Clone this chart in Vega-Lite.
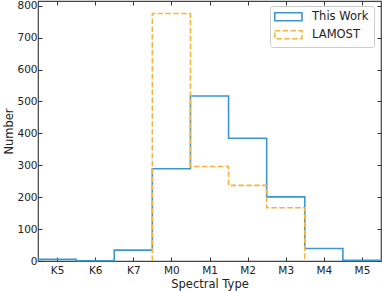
{
  "$schema": "https://vega.github.io/schema/vega-lite/v6.json",
  "width": 343,
  "height": 260,
  "autosize": {"type": "none"},
  "padding": {"left": 38, "top": 1, "right": 1, "bottom": 30},
  "config": {
    "font": "DejaVu Sans",
    "view": {"stroke": "#444444", "strokeWidth": 1.2},
    "axis": {
      "domain": false,
      "grid": false,
      "tickColor": "#333333",
      "tickSize": -4,
      "tickWidth": 1,
      "labelFontSize": 10.5,
      "labelColor": "#222222",
      "titleFontSize": 11.5,
      "titleFontWeight": "normal",
      "titleColor": "#222222"
    }
  },
  "data": {
    "values": [
      {"series": "This Work", "type": "K5", "edge": -0.5, "count": 5, "ord": 1},
      {"series": "This Work", "type": "K6", "edge": 0.5, "count": 1, "ord": 2},
      {"series": "This Work", "type": "K7", "edge": 1.5, "count": 34, "ord": 3},
      {"series": "This Work", "type": "M0", "edge": 2.5, "count": 289, "ord": 4},
      {"series": "This Work", "type": "M1", "edge": 3.5, "count": 517, "ord": 5},
      {"series": "This Work", "type": "M2", "edge": 4.5, "count": 385, "ord": 6},
      {"series": "This Work", "type": "M3", "edge": 5.5, "count": 201, "ord": 7},
      {"series": "This Work", "type": "M4", "edge": 6.5, "count": 39, "ord": 8},
      {"series": "This Work", "type": "M5", "edge": 7.5, "count": 2, "ord": 9},
      {"series": "This Work", "type": "end", "edge": 8.5, "count": 0, "ord": 10},
      {"series": "LAMOST", "type": "start", "edge": 2.5, "count": 0, "ord": 0},
      {"series": "LAMOST", "type": "M0", "edge": 2.5, "count": 776, "ord": 1},
      {"series": "LAMOST", "type": "M1", "edge": 3.5, "count": 296, "ord": 2},
      {"series": "LAMOST", "type": "M2", "edge": 4.5, "count": 237, "ord": 3},
      {"series": "LAMOST", "type": "M3", "edge": 5.5, "count": 167, "ord": 4},
      {"series": "LAMOST", "type": "end", "edge": 6.5, "count": 0, "ord": 5}
    ]
  },
  "layer": [
    {
      "mark": {"type": "line", "interpolate": "step-after", "strokeWidth": 1.6},
      "encoding": {
        "x": {
          "field": "edge", "type": "quantitative",
          "scale": {"domain": [-0.5, 8.5], "nice": false, "zero": false},
          "axis": {
            "orient": "bottom", "title": "Spectral Type",
            "values": [0, 1, 2, 3, 4, 5, 6, 7, 8],
            "labelExpr": "['K5','K6','K7','M0','M1','M2','M3','M4','M5'][datum.value]",
            "labelPadding": 8, "titlePadding": 3
          }
        },
        "y": {
          "field": "count", "type": "quantitative",
          "scale": {"domain": [0, 815], "nice": false},
          "axis": {
            "orient": "left", "title": "Number",
            "values": [0, 100, 200, 300, 400, 500, 600, 700, 800],
            "labelPadding": 5, "titlePadding": 2
          }
        },
        "color": {
          "field": "series", "type": "nominal",
          "scale": {"domain": ["This Work", "LAMOST"], "range": ["#3a97cf", "#f2b53f"]},
          "legend": {
            "title": null, "orient": "none", "legendX": 232, "legendY": 5,
            "symbolType": "M-3.4,-1H3.4V1H-3.4Z", "symbolSize": 64,
            "symbolStrokeWidth": 1.6, "symbolFillColor": "transparent",
            "labelFontSize": 11.5, "labelColor": "#222222",
            "fillColor": "rgba(255,255,255,0.8)", "strokeColor": "#cccccc",
            "cornerRadius": 2, "padding": 5, "rowPadding": 3,
            "symbolOffset": 7.6, "labelOffset": 18
          }
        },
        "strokeDash": {
          "field": "series", "type": "nominal",
          "scale": {"domain": ["This Work", "LAMOST"], "range": [[1, 0], [5.5, 2.4]]},
          "legend": {
            "title": null, "orient": "none", "legendX": 232, "legendY": 5,
            "symbolType": "M-3.4,-1H3.4V1H-3.4Z", "symbolSize": 64,
            "symbolStrokeWidth": 1.6, "symbolFillColor": "transparent",
            "labelFontSize": 11.5, "labelColor": "#222222",
            "fillColor": "rgba(255,255,255,0.8)", "strokeColor": "#cccccc",
            "cornerRadius": 2, "padding": 5, "rowPadding": 3,
            "symbolOffset": 7.6, "labelOffset": 18
          }
        },
        "order": {"field": "ord", "type": "quantitative"}
      }
    },
    {
      "mark": {"type": "point", "opacity": 0, "size": 0},
      "encoding": {
        "x": {
          "field": "edge", "type": "quantitative",
          "scale": {"domain": [-0.5, 8.5], "nice": false, "zero": false},
          "axis": {"orient": "top", "title": null, "labels": false, "values": [0, 1, 2, 3, 4, 5, 6, 7, 8]}
        },
        "y": {
          "field": "count", "type": "quantitative",
          "scale": {"domain": [0, 815], "nice": false},
          "axis": {"orient": "right", "title": null, "labels": false, "values": [0, 100, 200, 300, 400, 500, 600, 700, 800]}
        }
      }
    }
  ],
  "resolve": {"axis": {"x": "independent", "y": "independent"}}
}
